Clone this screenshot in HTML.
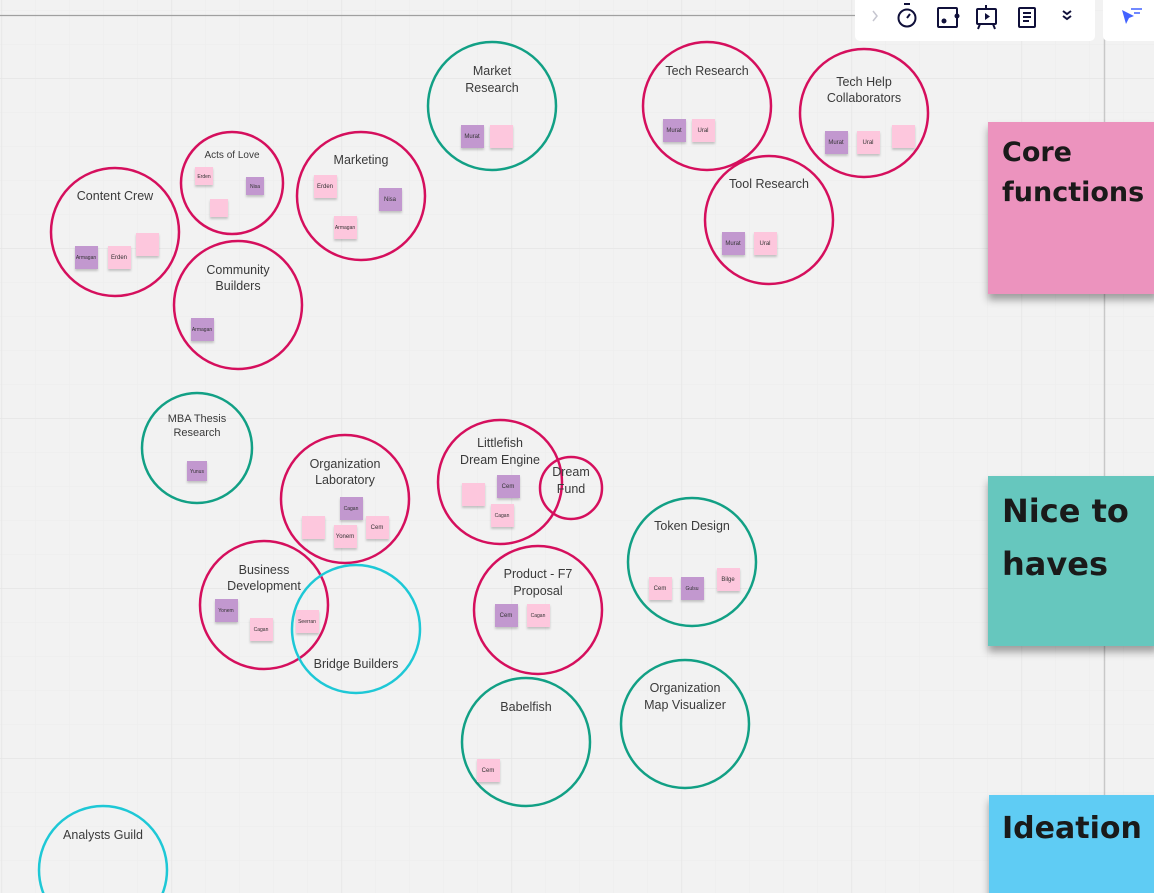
<!DOCTYPE html>
<html><head><meta charset="utf-8"><style>
html,body{margin:0;padding:0;width:1154px;height:893px;overflow:hidden;background:#f2f2f2;font-family:"Liberation Sans",sans-serif}
svg{position:absolute;left:0;top:0}
.t{font-family:"Liberation Sans",sans-serif;font-size:12.5px;fill:#3a3a3a;text-anchor:middle}
.s{font-family:"Liberation Sans",sans-serif;font-size:6px;fill:#333;text-anchor:middle}
.big{font-family:"DejaVu Sans","Liberation Sans",sans-serif;font-weight:bold;font-size:27px;fill:#1a1a1a}
</style></head><body>
<svg width="1154" height="893" viewBox="0 0 1154 893">
<defs>
<pattern id="minor" x="1.5" y="10" width="34" height="34" patternUnits="userSpaceOnUse">
<path d="M0 0V34M0 0H34" stroke="#ececec" stroke-width="1" fill="none"/></pattern>
<pattern id="major" x="1.5" y="78" width="170" height="170" patternUnits="userSpaceOnUse">
<path d="M0 0V170M0 0H170" stroke="#e3e3e3" stroke-width="1.3" fill="none"/></pattern>
<filter id="sh" x="-20%" y="-20%" width="140%" height="150%"><feDropShadow dx="0" dy="2" stdDeviation="1" flood-opacity="0.2"/></filter>
<filter id="bsh" x="-20%" y="-20%" width="140%" height="140%"><feDropShadow dx="0" dy="6" stdDeviation="4" flood-opacity="0.35"/></filter>
</defs>
<rect width="1154" height="893" fill="#f2f2f2"/>
<rect width="1154" height="893" fill="url(#minor)"/>
<rect width="1154" height="893" fill="url(#major)"/>
<line x1="0" y1="15.5" x2="856" y2="15.5" stroke="#a0a0a0" stroke-width="1.2"/>
<line x1="1104.5" y1="0" x2="1104.5" y2="893" stroke="#c8c8c8" stroke-width="1.5"/>

<rect x="855" y="-6" width="240" height="47" rx="5" fill="#fff"/>
<rect x="1103" y="-6" width="60" height="47" rx="5" fill="#fff"/>
<path d="M873 11l4 5-4 5" stroke="#c6c6d0" stroke-width="1.5" fill="none"/>
<g stroke="#10103a" stroke-width="2" fill="none">
<circle cx="907" cy="18" r="8.5"/><path d="M904 4h6M907 18l3-4"/>
<rect x="938" y="8" width="19" height="19" rx="1"/>
<rect x="977" y="9" width="19" height="15" rx="1"/><path d="M986 5v4M980 24l-2 5M993 24l2 5"/>
<rect x="1019" y="8" width="16" height="19" rx="1"/><path d="M1023 13h8M1023 17h8M1023 21h6"/>
<path d="M1063 11l4 3 4-3M1063 16l4 3 4-3"/>
</g>
<circle cx="944" cy="21" r="2.5" fill="#10103a"/><circle cx="957" cy="16" r="2.5" fill="#10103a"/>
<path d="M985 13v7l5-3.5z" fill="#10103a"/>
<path d="M1122 10l12 6-5 2-3 6z" fill="#4262ff"/><path d="M1131 9h11M1134 13h6" stroke="#4262ff" stroke-width="1.6"/>

<rect x="988" y="122" width="170" height="172" fill="#ec93be" filter="url(#bsh)"/>
<text class="big" x="1002" y="161">Core</text><text class="big" x="1002" y="201">functions</text>
<rect x="988" y="476" width="170" height="170" fill="#66c7be" filter="url(#bsh)"/>
<text class="big" x="1002" y="522" style="font-size:32px">Nice to</text><text class="big" x="1002" y="575" style="font-size:32px">haves</text>
<rect x="989" y="795" width="170" height="110" fill="#5fccf4" filter="url(#bsh)"/>
<text class="big" x="1002" y="838" style="font-size:30px">Ideation</text>

<g fill="none" stroke-width="2.5">
<circle cx="492" cy="106" r="64" stroke="#12a085"/>
<circle cx="707" cy="106" r="64" stroke="#d50f5d"/>
<circle cx="864" cy="113" r="64" stroke="#d50f5d"/>
<circle cx="769" cy="220" r="64" stroke="#d50f5d"/>
<circle cx="232" cy="183" r="51" stroke="#d50f5d"/>
<circle cx="361" cy="196" r="64" stroke="#d50f5d"/>
<circle cx="115" cy="232" r="64" stroke="#d50f5d"/>
<circle cx="238" cy="305" r="64" stroke="#d50f5d"/>
<circle cx="197" cy="448" r="55" stroke="#12a085"/>
<circle cx="345" cy="499" r="64" stroke="#d50f5d"/>
<circle cx="500" cy="482" r="62" stroke="#d50f5d"/>
<circle cx="571" cy="488" r="31" stroke="#d50f5d"/>
<circle cx="692" cy="562" r="64" stroke="#12a085"/>
<circle cx="264" cy="605" r="64" stroke="#d50f5d"/>
<circle cx="356" cy="629" r="64" stroke="#1ec8d6"/>
<circle cx="538" cy="610" r="64" stroke="#d50f5d"/>
<circle cx="526" cy="742" r="64" stroke="#12a085"/>
<circle cx="685" cy="724" r="64" stroke="#12a085"/>
<circle cx="103" cy="870" r="64" stroke="#1ec8d6"/>
</g>

<text class="t" x="492" y="75">Market</text><text class="t" x="492" y="92">Research</text>
<text class="t" x="707" y="75">Tech Research</text>
<text class="t" x="864" y="86">Tech Help</text><text class="t" x="864" y="102">Collaborators</text>
<text class="t" x="769" y="188">Tool Research</text>
<text class="t" x="232" y="158" style="font-size:10px">Acts of Love</text>
<text class="t" x="361" y="164">Marketing</text>
<text class="t" x="115" y="200">Content Crew</text>
<text class="t" x="238" y="274">Community</text><text class="t" x="238" y="290">Builders</text>
<text class="t" x="197" y="422" style="font-size:11px">MBA Thesis</text><text class="t" x="197" y="436" style="font-size:11px">Research</text>
<text class="t" x="345" y="468">Organization</text><text class="t" x="345" y="484">Laboratory</text>
<text class="t" x="500" y="447">Littlefish</text><text class="t" x="500" y="464">Dream Engine</text>
<text class="t" x="571" y="476">Dream</text><text class="t" x="571" y="493">Fund</text>
<text class="t" x="692" y="530">Token Design</text>
<text class="t" x="264" y="574">Business</text><text class="t" x="264" y="590">Development</text>
<text class="t" x="356" y="668">Bridge Builders</text>
<text class="t" x="538" y="578">Product - F7</text><text class="t" x="538" y="595">Proposal</text>
<text class="t" x="526" y="711">Babelfish</text>
<text class="t" x="685" y="692">Organization</text><text class="t" x="685" y="709">Map Visualizer</text>
<text class="t" x="103" y="839">Analysts Guild</text>

<g filter="url(#sh)">
<rect x="461" y="125" width="23" height="23" fill="#c298cf"/><rect x="490" y="125" width="23" height="23" fill="#fdc7dd"/>
<rect x="663" y="119" width="23" height="23" fill="#c298cf"/><rect x="692" y="119" width="23" height="23" fill="#fdc7dd"/>
<rect x="825" y="131" width="23" height="23" fill="#c298cf"/><rect x="857" y="131" width="23" height="23" fill="#fdc7dd"/><rect x="892" y="125" width="23" height="23" fill="#fdc7dd"/>
<rect x="722" y="232" width="23" height="23" fill="#c298cf"/><rect x="754" y="232" width="23" height="23" fill="#fdc7dd"/>
<rect x="195" y="167" width="18" height="18" fill="#fdc7dd"/><rect x="246" y="177" width="18" height="18" fill="#c298cf"/><rect x="210" y="199" width="18" height="18" fill="#fdc7dd"/>
<rect x="314" y="175" width="23" height="23" fill="#fdc7dd"/><rect x="379" y="188" width="23" height="23" fill="#c298cf"/><rect x="334" y="216" width="23" height="23" fill="#fdc7dd"/>
<rect x="75" y="246" width="23" height="23" fill="#c298cf"/><rect x="108" y="246" width="23" height="23" fill="#fdc7dd"/><rect x="136" y="233" width="23" height="23" fill="#fdc7dd"/>
<rect x="191" y="318" width="23" height="23" fill="#c298cf"/>
<rect x="187" y="461" width="20" height="20" fill="#c298cf"/>
<rect x="340" y="497" width="23" height="23" fill="#c298cf"/><rect x="302" y="516" width="23" height="23" fill="#fdc7dd"/><rect x="334" y="525" width="23" height="23" fill="#fdc7dd"/><rect x="366" y="516" width="23" height="23" fill="#fdc7dd"/>
<rect x="462" y="483" width="23" height="23" fill="#fdc7dd"/><rect x="497" y="475" width="23" height="23" fill="#c298cf"/><rect x="491" y="504" width="23" height="23" fill="#fdc7dd"/>
<rect x="215" y="599" width="23" height="23" fill="#c298cf"/><rect x="250" y="618" width="23" height="23" fill="#fdc7dd"/><rect x="296" y="610" width="23" height="23" fill="#fdc7dd"/>
<rect x="495" y="604" width="23" height="23" fill="#c298cf"/><rect x="527" y="604" width="23" height="23" fill="#fdc7dd"/>
<rect x="649" y="577" width="23" height="23" fill="#fdc7dd"/><rect x="681" y="577" width="23" height="23" fill="#c298cf"/><rect x="717" y="568" width="23" height="23" fill="#fdc7dd"/>
<rect x="477" y="759" width="23" height="23" fill="#fdc7dd"/>
</g>
<g>
<text class="s" x="472" y="138">Murat</text>
<text class="s" x="674" y="132">Murat</text><text class="s" x="703" y="132">Ural</text>
<text class="s" x="836" y="144">Murat</text><text class="s" x="868" y="144">Ural</text>
<text class="s" x="733" y="245">Murat</text><text class="s" x="765" y="245">Ural</text>
<text class="s" x="204" y="178" style="font-size:5px">Erden</text><text class="s" x="255" y="188" style="font-size:5px">Nisa</text>
<text class="s" x="325" y="188">Erden</text><text class="s" x="390" y="201">Nisa</text><text class="s" x="345" y="229" style="font-size:5px">Armagan</text>
<text class="s" x="86" y="259" style="font-size:5px">Armagan</text><text class="s" x="119" y="259">Erden</text>
<text class="s" x="202" y="331" style="font-size:5px">Armagan</text>
<text class="s" x="197" y="473" style="font-size:5px">Yunus</text>
<text class="s" x="351" y="510" style="font-size:5px">Cagan</text><text class="s" x="345" y="538">Yonem</text><text class="s" x="377" y="529">Cem</text>
<text class="s" x="508" y="488">Cem</text><text class="s" x="502" y="517" style="font-size:5px">Cagan</text>
<text class="s" x="226" y="612" style="font-size:5px">Yonem</text><text class="s" x="261" y="631" style="font-size:5px">Cagan</text><text class="s" x="307" y="623" style="font-size:5px">Seerran</text>
<text class="s" x="506" y="617">Cem</text><text class="s" x="538" y="617" style="font-size:5px">Cagan</text>
<text class="s" x="660" y="590">Cem</text><text class="s" x="692" y="590" style="font-size:5px">Gulsu</text><text class="s" x="728" y="581">Bilge</text>
<text class="s" x="488" y="772">Cem</text>
</g>
</svg>
</body></html>
